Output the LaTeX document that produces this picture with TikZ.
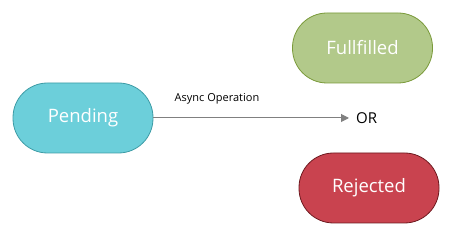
\documentclass[tikz,border=0pt]{standalone}
\usepackage{fontspec}
\setmainfont{Open Sans}
\usetikzlibrary{arrows.meta}
\definecolor{pendfill}{HTML}{6CCFDA}
\definecolor{penddraw}{HTML}{3E9CA6}
\definecolor{fulfill}{HTML}{B2C98A}
\definecolor{fuldraw}{HTML}{7A9A3A}
\definecolor{rejfill}{HTML}{C9434F}
\definecolor{rejdraw}{HTML}{6E1A20}
\definecolor{arrgray}{HTML}{808080}
\tikzset{
  state/.style={rectangle, rounded corners=34.5pt, minimum width=140pt, minimum height=70pt,
    inner sep=0pt, line width=0.8pt, text=white, font=\fontsize{18.5}{22}\selectfont},
  flow/.style={draw=arrgray, line width=1pt, -{Triangle[length=8pt,width=8pt]}},
}
\begin{document}
\begin{tikzpicture}[x=1pt,y=-1pt]
\useasboundingbox (0,0) rectangle (453,237);
\node[state, fill=pendfill, draw=penddraw] (pending) at (83,118) {Pending};
\node[state, fill=fulfill, draw=fuldraw] (ful) at (362.5,48) {Fullfilled};
\node[state, fill=rejfill, draw=rejdraw] (rej) at (369,188) {Rejected};
\node[font=\fontsize{15}{18}\selectfont, inner sep=0pt, anchor=west] (or) at (356,118) {OR};
\coordinate (tip) at (349,118);
\draw[flow] (pending.east) -- (tip);
\node[font=\fontsize{11}{13}\selectfont, inner sep=0pt] (lbl) at (217,99) {Async Operation};
\end{tikzpicture}
\end{document}
